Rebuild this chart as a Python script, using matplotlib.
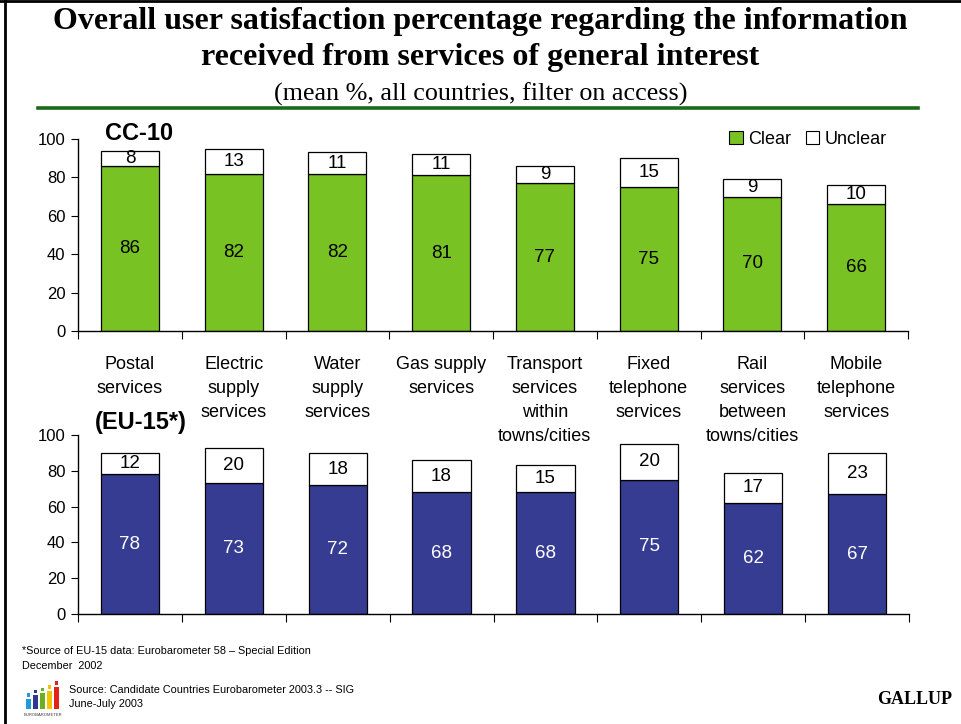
import matplotlib
matplotlib.use("Agg")
import matplotlib.pyplot as plt
from matplotlib.patches import Rectangle
from matplotlib.lines import Line2D
import matplotlib.transforms as mtransforms

plt.rcParams['font.family'] = ['Liberation Sans', 'DejaVu Sans']

categories = ["Postal\nservices", "Electric\nsupply\nservices", "Water\nsupply\nservices",
              "Gas supply\nservices", "Transport\nservices\nwithin\ntowns/cities",
              "Fixed\ntelephone\nservices", "Rail\nservices\nbetween\ntowns/cities",
              "Mobile\ntelephone\nservices"]
cc10_clear = [86, 82, 82, 81, 77, 75, 70, 66]
cc10_unclear = [8, 13, 11, 11, 9, 15, 9, 10]
eu15_clear = [78, 73, 72, 68, 68, 75, 62, 67]
eu15_unclear = [12, 20, 18, 18, 15, 20, 17, 23]

GREEN = "#78C223"
BLUE = "#353C92"
W, H = 961, 724

fig = plt.figure(figsize=(W / 100, H / 100), dpi=100)


def fx(px):
    return px / W


def fy(py):
    return 1 - py / H


def draw_panel(ax, clear, unclear, color, clear_text_color):
    x = list(range(len(clear)))
    ax.bar(x, clear, width=0.56, color=color, edgecolor="black", linewidth=0.9, zorder=2)
    ax.bar(x, unclear, bottom=clear, width=0.56, color="white", edgecolor="black",
           linewidth=0.9, zorder=2)
    for xi, c, u in zip(x, clear, unclear):
        ax.text(xi, c / 2, str(c), ha="center", va="center", fontsize=13.5,
                color=clear_text_color)
        ax.text(xi, c + u / 2, str(u), ha="center", va="center", fontsize=13.5, color="black")
    ax.set_xlim(-0.5, len(clear) - 0.5)
    ax.set_ylim(0, 100)
    ax.set_yticks([0, 20, 40, 60, 80, 100])
    ax.tick_params(axis="y", direction="out", length=5, labelsize=12, pad=4)
    ax.set_xticks([i - 0.5 for i in range(len(clear) + 1)])
    ax.set_xticklabels([])
    ax.tick_params(axis="x", direction="out", length=6)
    for s in ("top", "right"):
        ax.spines[s].set_visible(False)
    ax.spines["left"].set_linewidth(1.0)
    ax.spines["bottom"].set_linewidth(1.0)


# upper panel: CC-10
ax1 = fig.add_axes([fx(78), fy(331), fx(908) - fx(78), (331 - 139) / H])
draw_panel(ax1, cc10_clear, cc10_unclear, GREEN, "black")

# lower panel: EU-15
ax2 = fig.add_axes([fx(78), fy(614), fx(909) - fx(78), (614 - 435) / H])
draw_panel(ax2, eu15_clear, eu15_unclear, BLUE, "white")

# category labels between the panels
trans = mtransforms.blended_transform_factory(ax1.transData, fig.transFigure)
for i, lab in enumerate(categories):
    fig.text(i, fy(356), lab, transform=trans, ha="center", va="top", fontsize=13,
             linespacing=1.55)

# panel labels
fig.text(fx(105), fy(133), "CC-10", fontsize=17, fontweight="bold", va="center", ha="left")
fig.text(fx(95), fy(423), "(EU-15*)", fontsize=17, fontweight="bold", va="center", ha="left")

# legend
handles = [Rectangle((0, 0), 1, 1, facecolor=GREEN, edgecolor="black", linewidth=0.8),
           Rectangle((0, 0), 1, 1, facecolor="white", edgecolor="black", linewidth=0.8)]
fig.legend(handles, ["Clear", "Unclear"], loc="center", bbox_to_anchor=(fx(808), fy(139)),
           ncol=2, frameon=False, fontsize=13, handlelength=0.75, handleheight=0.75,
           handletextpad=0.3, columnspacing=0.8)

# title block
fig.text(0.5, fy(21), "Overall user satisfaction percentage regarding the information",
         family="Liberation Serif", fontsize=23, fontweight="bold", ha="center", va="center")
fig.text(0.5, fy(57), "received from services of general interest",
         family="Liberation Serif", fontsize=23, fontweight="bold", ha="center", va="center")
fig.text(0.5, fy(94), "(mean %, all countries, filter on access)",
         family="Liberation Serif", fontsize=18.8, ha="center", va="center")
fig.add_artist(Line2D([fx(38), fx(918)], [fy(108), fy(108)], color="#1B6A1B", linewidth=2.6))

# page frame on left and top
fig.add_artist(Line2D([fx(5), fx(5)], [0, 1], color="black", linewidth=2))
fig.add_artist(Line2D([0, 1], [fy(1), fy(1)], color="black", linewidth=2))

# footnotes
fig.text(fx(22), fy(651), "*Source of EU-15 data: Eurobarometer 58 \u2013 Special Edition",
         fontsize=7.8, va="center", ha="left")
fig.text(fx(22), fy(666), "December  2002", fontsize=7.8, va="center", ha="left")
fig.text(fx(69), fy(690), "Source: Candidate Countries Eurobarometer 2003.3 -- SIG",
         fontsize=7.8, va="center", ha="left")
fig.text(fx(69), fy(704), "June-July 2003", fontsize=7.8, va="center", ha="left")

# small Eurobarometer logo
logo_colors = ["#1E9AD9", "#2E3A8F", "#6AB023", "#F2C500", "#E2231A"]
logo_heights = [13, 17, 20, 23, 28]
for k, (c, h) in enumerate(zip(logo_colors, logo_heights)):
    x0 = 26 + k * 7
    fig.add_artist(Rectangle((fx(x0), fy(709)), fx(5), h / H * 0.8,
                             facecolor=c, edgecolor="none"))
    fig.add_artist(Rectangle((fx(x0 + 0.8), fy(709) + h / H * 0.8 + 2 / H), fx(3.5), 3.5 / H,
                             facecolor=c, edgecolor="none"))
fig.text(fx(43), fy(715), "EUROBAROMETER", fontsize=3, ha="center", va="center",
         color="#333333")

fig.text(fx(952), fy(700), "GALLUP", family="Liberation Serif", fontsize=13,
         fontweight="bold", ha="right", va="center")

fig.savefig("out.png", dpi=100)
